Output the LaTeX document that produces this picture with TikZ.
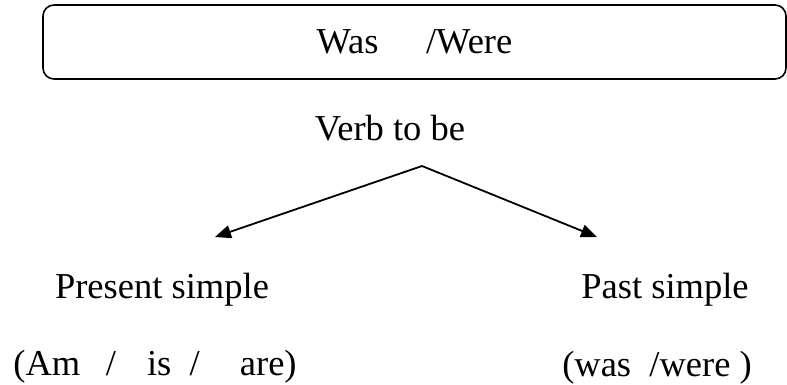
\documentclass[tikz,border=0pt]{standalone}
\usepackage{fontspec}
\setmainfont{Liberation Serif}
\usepackage{tikz}
\usetikzlibrary{positioning,arrows.meta}

\tikzset{
  word/.style={anchor=base, inner sep=0, font=\fontsize{36.5}{42}\selectfont},
  titlebox/.style={draw, line width=1.6, rounded corners=11, minimum width=743, minimum height=74, inner sep=0, font=\fontsize{36.5}{42}\selectfont},
  branch/.style={-{Triangle[length=16, width=13]}, line width=1.8}
}

\begin{document}
\begin{tikzpicture}[x=1pt, y=-1pt]
\useasboundingbox (0,0) rectangle (787,385);
% nodes %

\node[titlebox] (title) at (414.5, 42) {Was\hspace{1.3em}/Were};
\node[word] (verb) at (390, 141) {Verb to be};
\node[word] (present) at (162, 298) {Present simple};
\node[word] (past) at (665, 298) {Past simple};
\node[word] (amisare) at (155, 375) {(Am\hspace{0.7em}/\hspace{0.85em}is\hspace{0.5em}/\hspace{1.1em}are)};
\node[word] (waswere) at (657, 376) {(was\hspace{0.5em}/were )};

\coordinate (fork) at (422, 166);
\coordinate (lefttip) at (215, 237);
\coordinate (righttip) at (597, 237);

% edges %
\draw[branch] (fork) -- (lefttip);
\draw[branch] (fork) -- (righttip);

\end{tikzpicture}
\end{document}
